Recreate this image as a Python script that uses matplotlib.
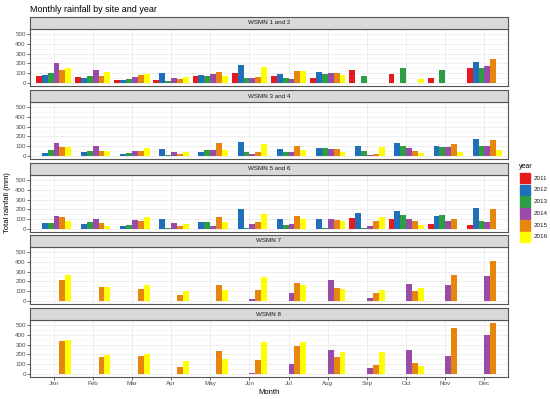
import numpy as np
import matplotlib
matplotlib.use("Agg")
import matplotlib.pyplot as plt
from matplotlib.patches import Rectangle

plt.rcParams["font.family"] = ["Liberation Sans", "DejaVu Sans"]

months = ["Jan", "Feb", "Mar", "Apr", "May", "Jun",
          "Jul", "Aug", "Sep", "Oct", "Nov", "Dec"]
years = [2011, 2012, 2013, 2014, 2015, 2016]
year_colors = ["#E41A1C", "#1F70B8", "#2E9E44", "#9A4BA8", "#E8850C", "#FFFF00"]
sites = ["WSMN 1 and 2", "WSMN 3 and 4", "WSMN 5 and 6", "WSMN 7", "WSMN 8"]

N = None
# rows = years 2011..2016, columns = Jan..Dec (mm)
wsmn_1_2 = [
    [75, 60, 33, 30, 70, 100, 70, 52, 128, 95, 52, 150],
    [80, 52, 33, 100, 80, 185, 95, 115, N, N, N, 215],
    [100, 75, 42, 22, 72, 52, 52, 88, 75, 157, 137, 150],
    [200, 128, 60, 55, 88, 48, 42, 100, N, N, N, 176],
    [135, 70, 82, 42, 110, 60, 125, 100, N, N, N, 245],
    [150, 108, 90, 62, 70, 162, 125, 82, N, 36, N, N],
]
wsmn_3_4 = [
    [N] * 12,
    [34, 44, 20, 71, 44, 145, 74, 78, 105, 132, 101, 169],
    [61, 50, 30, 10, 64, 37, 44, 78, 54, 101, 91, 101],
    [128, 101, 50, 40, 64, 24, 44, 74, 10, 81, 88, 101],
    [88, 50, 50, 24, 128, 44, 98, 71, 24, 54, 118, 162],
    [91, 50, 78, 37, 57, 118, 61, 44, 91, 34, 40, 57],
]
wsmn_5_6 = [
    [N, N, N, N, N, N, N, N, 107, 103, 52, 45],
    [65, 52, 28, 103, 72, 203, 97, 103, 159, 183, 128, 217],
    [62, 72, 41, 7, 72, 14, 41, 14, 7, 145, 138, 86],
    [131, 97, 90, 65, 34, 52, 52, 97, 34, 97, 83, 69],
    [121, 65, 76, 34, 124, 69, 128, 90, 83, 86, 97, 203],
    [83, 34, 117, 48, 69, 152, 103, 83, 117, 45, N, N],
]
wsmn_7 = [
    [N] * 12,
    [N] * 12,
    [N] * 12,
    [N, N, N, N, N, 17, 86, 210, 34, 172, 159, 259],
    [217, 138, 124, 59, 162, 114, 186, 131, 83, 97, 266, 403],
    [266, 138, 166, 103, 107, 241, 162, 124, 107, 134, N, N],
]
wsmn_8 = [
    [N] * 12,
    [N] * 12,
    [N] * 12,
    [N, N, N, N, N, 10, 98, 247, 58, 241, 180, 397],
    [336, 169, 186, 75, 231, 139, 281, 173, 92, 108, 464, 520],
    [349, 197, 200, 132, 156, 322, 329, 224, 220, 81, N, N],
]
site_data = [wsmn_1_2, wsmn_3_4, wsmn_5_6, wsmn_7, wsmn_8]

W, H = 550, 399
fig = plt.figure(figsize=(W / 100, H / 100), dpi=100)


def px_axes(x0, y0, x1, y1):
    # pixel box measured from the top-left corner
    return fig.add_axes([x0 / W, 1 - y1 / H, (x1 - x0) / W, (y1 - y0) / H])


left, right = 30, 508
panel_tops = [29, 102, 175, 247, 320]
panel_h, strip_h = 56.5, 12
x = np.arange(len(months))
bw = 0.9 / len(years)
border = "#555555"

for k, (site, data) in enumerate(zip(sites, site_data)):
    top = panel_tops[k]
    ax = px_axes(left, top, right, top + panel_h)
    for j, (yr, col) in enumerate(zip(years, year_colors)):
        vals = np.array([np.nan if v is None else v for v in data[j]], float)
        m = ~np.isnan(vals)
        ax.bar(x[m] + (j - 2.5) * bw, vals[m], bw, color=col, zorder=3)
    ax.set_xlim(-0.6, 11.6)
    ax.set_ylim(-26, 546)
    ax.set_yticks(range(0, 501, 100))
    ax.set_yticks(range(50, 551, 100), minor=True)
    ax.set_xticks(x)
    ax.grid(which="major", color="#EBEBEB", lw=0.6, zorder=0)
    ax.grid(which="minor", axis="y", color="#F4F4F4", lw=0.4, zorder=0)
    ax.tick_params(axis="y", which="minor", length=0)
    ax.tick_params(which="major", labelsize=4.5, length=2, width=0.5,
                   color="#333333", labelcolor="#4D4D4D", pad=1)
    if k < len(sites) - 1:
        ax.tick_params(axis="x", length=0, labelbottom=False)
    else:
        ax.set_xticklabels(months)
    for s in ax.spines.values():
        s.set_color(border)
        s.set_linewidth(0.8)

    st = px_axes(left, top - strip_h, right, top)
    st.set_facecolor("#D9D9D9")
    st.set_xticks([]); st.set_yticks([])
    for s in st.spines.values():
        s.set_color(border)
        s.set_linewidth(0.8)
    st.text(0.5, 0.5, site, ha="center", va="center", fontsize=4.5,
            color="#1A1A1A", transform=st.transAxes)

fig.text(30 / W, 1 - 9 / H, "Monthly rainfall by site and year",
         fontsize=6.5, va="center", ha="left")
fig.text(8 / W, 1 - 203 / H, "Total rainfall (mm)", rotation=90,
         fontsize=5.5, va="center", ha="center")
fig.text(269 / W, 1 - 392 / H, "Month", fontsize=5.5, va="center", ha="center")

# legend
fig.text(519 / W, 1 - 167 / H, "year", fontsize=5, va="center", ha="left")
for i, (yr, col) in enumerate(zip(years, year_colors)):
    cy = 178 + i * 11.8
    fig.add_artist(Rectangle((520 / W, 1 - (cy + 5.3) / H), 10 / W, 10.6 / H,
                             color=col, transform=fig.transFigure))
    fig.text(534 / W, 1 - cy / H, str(yr), fontsize=4.5, va="center",
             ha="left", color="#1A1A1A")

fig.savefig("out.png", dpi=100, facecolor="white")
